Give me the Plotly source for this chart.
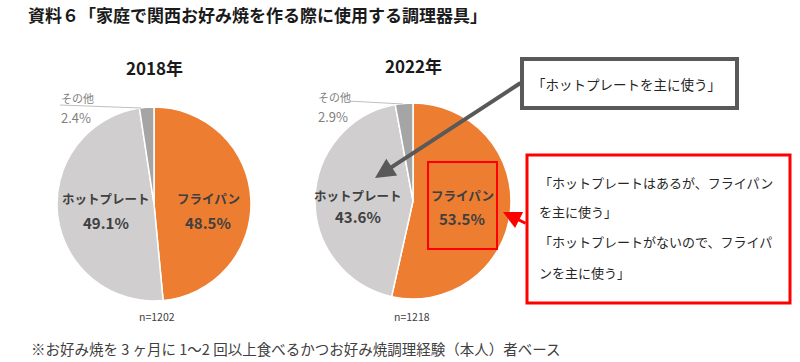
import plotly.graph_objects as go

W, H = 800, 362

# ---- data ----
title_text = "資料６「家庭で関西お好み焼を作る際に使用する調理器具」"
years = ["2018年", "2022年"]
labels = ["フライパン", "ホットプレート", "その他"]
values_2018 = [48.5, 49.1, 2.4]
values_2022 = [53.5, 43.6, 2.9]
n_counts = [1202, 1218]
callout_gray = "「ホットプレートを主に使う」"
callout_red_lines = [
    "「ホットプレートはあるが、フライパン",
    "を主に使う」",
    "「ホットプレートがないので、フライパ",
    "ンを主に使う」",
]
footnote = "※お好み焼を 3 ヶ月に 1～2 回以上食べるかつお好み焼調理経験（本人）者ベース"

colors = ["#ED7D31", "#D0CECE", "#A5A5A5"]
JP = "Noto Sans CJK JP"


def px(x):
    return x / W


def py(y):
    return 1 - y / H


def domain(cx, cy, r):
    return dict(x=[px(cx - r), px(cx + r)], y=[py(cy + r), py(cy - r)])


fig = go.Figure()
pie_geo = [(154, 204, 97), (413, 201, 98)]
for vals, (cx, cy, r) in zip([values_2018, values_2022], pie_geo):
    fig.add_trace(go.Pie(
        labels=labels, values=vals, sort=False, direction="clockwise",
        rotation=0, textinfo="none", hoverinfo="label+percent",
        marker=dict(colors=colors, line=dict(color="white", width=1.5)),
        domain=domain(cx, cy, r), showlegend=False,
    ))

ann = []


def text(x, y, s, size=13, color="#404040", bold=False, anchor="center", family=JP):
    ann.append(dict(
        x=px(x), y=py(y), xref="paper", yref="paper", showarrow=False,
        text=f"<b>{s}</b>" if bold else s, xanchor=anchor, yanchor="middle",
        font=dict(family=family, size=size, color=color),
    ))


# title
text(26, 15, title_text, size=17, color="#1a1a1a", bold=True, anchor="left")
# year headings
text(154, 67, years[0], size=17, color="#1a1a1a", bold=True)
text(413, 66, years[1], size=17, color="#1a1a1a", bold=True)

# slice labels 2018
text(208, 198, labels[0], bold=True, size=12.5)
text(208, 222, f"{values_2018[0]}%", bold=True, size=15)
text(106, 198, labels[1], bold=True, size=12.5)
text(106, 222, f"{values_2018[1]}%", bold=True, size=15)
text(59, 98, labels[2], size=11, color="#7F7F7F", anchor="left")
text(59, 117, f"{values_2018[2]}%", size=13, color="#7F7F7F", anchor="left")

# slice labels 2022
text(462, 195, labels[0], bold=True, size=12.5)
text(462, 218, f"{values_2022[0]}%", bold=True, size=15)
text(358, 195, labels[1], bold=True, size=12.5)
text(358, 216, f"{values_2022[1]}%", bold=True, size=15)
text(316, 97, labels[2], size=11, color="#7F7F7F", anchor="left")
text(316, 116, f"{values_2022[2]}%", size=13, color="#7F7F7F", anchor="left")

# n labels
text(157, 316, f"n={n_counts[0]}", size=10.5, color="#404040")
text(412, 316, f"n={n_counts[1]}", size=10.5, color="#404040")

# footnote
text(29, 348, footnote, size=14.5, color="#404040", anchor="left")

# callout texts
text(626, 84, callout_gray, size=13.5, color="#262626")
for i, line in enumerate(callout_red_lines):
    text(537, 182 + i * 30, line, size=13, color="#262626", anchor="left")

# arrows
ann.append(dict(x=px(375), y=py(178), xref="paper", yref="paper",
                ax=147, ay=-96, axref="pixel", ayref="pixel",
                showarrow=True, arrowhead=2, arrowsize=1, arrowwidth=4,
                arrowcolor="#595959", text=""))
ann.append(dict(x=px(503), y=py(212), xref="paper", yref="paper",
                ax=24, ay=12, axref="pixel", ayref="pixel",
                showarrow=True, arrowhead=2, arrowsize=1.2, arrowwidth=3,
                arrowcolor="#FF0000", text=""))

shapes = []


def rect(x0, y0, x1, y1, color, width, fill="rgba(0,0,0,0)", layer="above"):
    shapes.append(dict(type="rect", xref="paper", yref="paper",
                       x0=px(x0), x1=px(x1), y0=py(y1), y1=py(y0),
                       line=dict(color=color, width=width), fillcolor=fill, layer=layer))


def line(x0, y0, x1, y1, color, width):
    shapes.append(dict(type="line", xref="paper", yref="paper",
                       x0=px(x0), x1=px(x1), y0=py(y0), y1=py(y1),
                       line=dict(color=color, width=width)))


# leader lines for その他
line(60, 105, 141, 108, "#BFBFBF", 1.2)
line(348, 101, 403, 104, "#BFBFBF", 1.2)

rect(522, 59, 737, 108, "#595959", 4, fill="white")
rect(527, 155, 790, 303, "#FF0000", 3, fill="white")
rect(428, 162, 497, 249, "#FF0000", 2)

fig.update_layout(
    width=W, height=H, margin=dict(l=0, r=0, t=0, b=0),
    paper_bgcolor="white", plot_bgcolor="white",
    annotations=ann, shapes=shapes, showlegend=False,
)

fig.write_html(
    "out.html",
    config={"displayModeBar": False},
    post_script="document.body.style.margin='0';document.body.style.overflow='hidden';",
)
